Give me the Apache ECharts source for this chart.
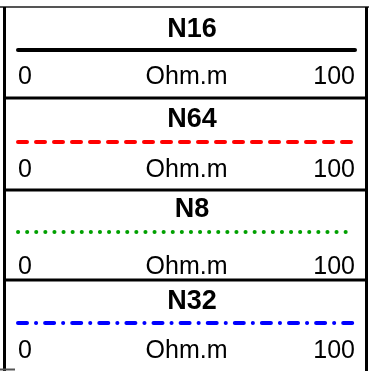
<!DOCTYPE html>
<html>
<head>
<meta charset="utf-8">
<script src="https://cdn.jsdelivr.net/npm/echarts@6/dist/echarts.min.js"></script>
<style>
html,body{margin:0;padding:0;background:#fff;}
#chart{width:369px;height:371px;}
</style>
</head>
<body>
<div id="chart"></div>
<script>
// Curve header data
var curveNames = ['N16', 'N64', 'N8', 'N32'];
var curveUnits = ['Ohm.m', 'Ohm.m', 'Ohm.m', 'Ohm.m'];
var scaleMin = [0, 0, 0, 0];
var scaleMax = [100, 100, 100, 100];
var curveColors = ['#000000', '#ff0000', '#00a000', '#0000ff'];

// Layout (pixels)
var boxTops = [7, 98, 190, 280];
var titleY = [27.5, 117.5, 206.7, 299];
var lineY = [50, 142, 232, 323];
var labelY = [78, 171, 267.5, 352];
var lineStyles = [
  {type: 'solid', width: 4, cap: 'round'},
  {type: [9, 9], width: 4, cap: 'round'},
  {type: [0.1, 9], width: 4, cap: 'round'},
  {type: [9, 9, 0.1, 9], width: 4, cap: 'round'}
];
var lineRight = [14, 14, 21, 14];

var chart = echarts.init(document.getElementById('chart'), null, {renderer: 'canvas'});
var grids = [], xAxes = [], yAxes = [], series = [], titles = [];
var fs = 25;
for (var i = 0; i < curveNames.length; i++) {
  grids.push({left: 18, right: 14, top: lineY[i] - 5, height: 10, containLabel: false});
  var margin = labelY[i] - 13 - lineY[i] - 5;
  xAxes.push({
    gridIndex: i, type: 'value', min: scaleMin[i], max: scaleMax[i], interval: scaleMax[i] - scaleMin[i],
    axisLine: {show: false}, axisTick: {show: false}, splitLine: {show: false},
    axisLabel: {show: true, margin: margin, fontSize: fs, color: '#000', fontFamily: 'Liberation Sans',
      alignMinLabel: 'left', alignMaxLabel: 'right', verticalAlign: 'top'},
    name: curveUnits[i], nameLocation: 'middle', nameGap: margin, nameMoveOverlap: false,
    nameTextStyle: {fontSize: fs, color: '#000', fontFamily: 'Liberation Sans', verticalAlign: 'top'}
  });
  yAxes.push({gridIndex: i, type: 'value', min: -1, max: 1, show: false});
  var endX = scaleMax[i] - (lineRight[i] - 14) / (369 - 18 - 14) * (scaleMax[i] - scaleMin[i]);
  series.push({
    type: 'line', xAxisIndex: i, yAxisIndex: i, symbol: 'none', silent: true, animation: false,
    data: [[scaleMin[i], 0], [endX, 0]],
    lineStyle: {color: curveColors[i], width: lineStyles[i].width, type: lineStyles[i].type, cap: lineStyles[i].cap}
  });
  titles.push({
    text: curveNames[i], left: 187, top: titleY[i] - 16, textAlign: 'center',
    textStyle: {fontSize: 27, fontWeight: 'bold', color: '#000', fontFamily: 'Liberation Sans'}
  });
}

var graphics = [
  {type: 'line', shape: {x1: 0, y1: 7, x2: 369, y2: 7}, style: {stroke: '#555', lineWidth: 2}},
  {type: 'line', shape: {x1: 4.5, y1: 7, x2: 4.5, y2: 371}, style: {stroke: '#000', lineWidth: 3}},
  {type: 'line', shape: {x1: 366.5, y1: 7, x2: 366.5, y2: 371}, style: {stroke: '#000', lineWidth: 3}},
  {type: 'line', shape: {x1: 0, y1: 369.5, x2: 15, y2: 369.5}, style: {stroke: '#555', lineWidth: 2}}
];
for (var j = 1; j < boxTops.length; j++) {
  graphics.push({type: 'line', shape: {x1: 3, y1: boxTops[j], x2: 368, y2: boxTops[j]}, style: {stroke: '#000', lineWidth: 3}});
}

chart.setOption({
  animation: false,
  backgroundColor: '#fff',
  title: titles,
  grid: grids,
  xAxis: xAxes,
  yAxis: yAxes,
  series: series,
  graphic: graphics
});
</script>
</body>
</html>
